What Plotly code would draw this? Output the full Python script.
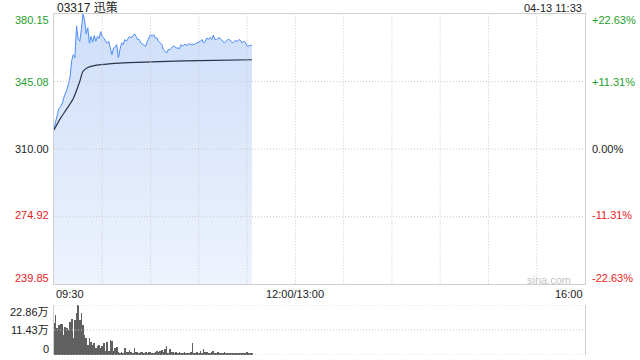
import plotly.graph_objects as go

# ---------------- data ----------------
minutes = list(range(124))
price = [
    320.8, 324.0, 328.0, 331.0, 332.0, 333.5, 336.5, 338.5, 341.0, 344.0,
    347.5, 356.0, 359.0, 357.5, 374.0, 367.0, 366.0, 372.0, 380.15, 377.0,
    370.0, 373.0, 365.0, 368.5, 365.5, 369.0, 366.0, 368.5, 367.5, 371.0,
    368.5, 367.5, 366.0, 365.0, 366.0, 362.5, 359.0, 362.5, 363.0, 364.3,
    357.5, 361.7, 365.1, 364.3, 366.9, 366.0, 367.7, 368.6, 367.7, 368.6,
    369.8, 368.6, 366.9, 366.9, 365.1, 364.5, 364.0, 363.4, 366.0, 367.7,
    369.5, 368.6, 369.5, 367.7, 367.7, 366.0, 365.1, 364.3, 361.7, 360.8,
    359.9, 361.7, 361.7, 362.5, 363.4, 363.4, 362.5, 362.5, 362.2, 364.3,
    363.4, 364.3, 364.3, 364.0, 364.8, 364.3, 364.5, 364.3, 364.8, 365.1,
    365.3, 366.0, 366.9, 365.1, 366.0, 367.7, 366.9, 368.1, 366.9, 369.2,
    366.9, 366.9, 367.7, 367.7, 366.9, 366.0, 365.1, 366.0, 366.9, 366.9,
    366.0, 365.1, 366.0, 366.3, 366.0, 366.9, 366.3, 365.1, 366.0, 365.5,
    363.4, 363.7, 363.7, 364.0,
]
avg_minutes = [0, 4, 8, 12, 16, 18, 21, 25, 29, 41, 60, 81, 100, 123]
avg_price = [320.0, 326.0, 331.0, 336.3, 345.1, 350.3, 352.4, 353.4, 353.9,
             354.7, 355.3, 355.8, 356.1, 356.4]
volume = [
    14.5, 18.3, 12.2, 13.7, 14.0, 14.0, 9.1, 13.0, 12.5, 11.4,
    15.2, 16.5, 8.0, 15.9, 19.0, 22.86, 15.9, 19.0, 13.7, 9.1,
    7.6, 4.6, 7.9, 6.1, 4.5, 5.5, 3.0, 4.0, 4.8, 3.0,
    4.0, 5.5, 2.0, 6.0, 2.0, 6.9, 6.3, 2.0, 3.0, 3.5,
    1.5, 0.8, 1.5, 0.8, 3.0, 1.5, 1.2, 2.3, 1.5, 0.8,
    3.0, 1.2, 1.5, 0.8, 1.2, 1.5, 0.8, 1.5, 0.8, 1.5,
    1.2, 0.8, 1.0, 1.5, 1.8, 1.2, 2.0, 2.5, 1.5, 2.7,
    4.3, 1.0, 2.7, 1.2, 1.5, 1.0, 1.2, 0.8, 1.5, 1.0,
    0.8, 1.2, 0.6, 1.0, 0.8, 1.2, 5.6, 0.8, 1.0, 1.2,
    0.8, 2.0, 1.0, 2.7, 1.2, 1.5, 1.0, 0.8, 1.6, 1.8,
    1.0, 0.8, 1.2, 0.6, 1.0, 0.8, 1.2, 0.6, 1.0, 0.8,
    0.6, 1.0, 0.8, 0.6, 0.8, 0.6, 0.8, 1.0, 0.6, 0.8,
    1.5, 0.8, 0.6, 0.5,
]
price_ticks = [380.15, 345.08, 310.00, 274.92, 239.85]
price_labels = ["380.15", "345.08", "310.00", "274.92", "239.85"]
pct_labels = ["+22.63%", "+11.31%", "0.00%", "-11.31%", "-22.63%"]
vol_ticks = [22.86, 11.43, 0]
vol_labels = ["22.86万", "11.43万", "0"]
time_pos = [0, 150, 330]
time_labels = ["09:30", "12:00/13:00", "16:00"]
grid_minutes = list(range(30, 330, 30))
grid_prices = [345.08, 310.00, 274.92]
title_text = "03317 迅策"
stamp_text = "04-13 11:33"

# ---------------- figure ----------------
W, H = 640, 360
ML, MR, MT, MB = 54, 55, 14, 5
PH = H - MT - MB
def py(ypix):
    return (H - MB - ypix) / PH
def px(xpix):
    return (xpix - ML) / (W - ML - MR)

FONT = "Liberation Sans, Arial, Noto Sans CJK SC, sans-serif"
GREEN = "#1f9e2c"
RED = "#e8221a"
GRID = "#c9c9c9"
BORDER = "#d0d0d0"
DASH = "1px,2px"

fig = go.Figure()
fig.add_trace(go.Scatter(
    x=minutes, y=price, mode="lines",
    line=dict(color="#4d8cf5", width=1),
    fill="tozeroy",
    fillgradient=dict(type="vertical", start=239.85, stop=380.15,
                      colorscale=[[0, "rgb(238,243,253)"], [1, "rgb(206,222,250)"]]),
    xaxis="x", yaxis="y", hoverinfo="skip",
))
fig.add_trace(go.Scatter(
    x=avg_minutes, y=avg_price, mode="lines",
    line=dict(color="#2a3447", width=1.2, shape="spline", smoothing=0.8),
    xaxis="x", yaxis="y", hoverinfo="skip",
))
fig.add_trace(go.Bar(
    x=minutes, y=volume, width=0.4, marker=dict(color="#606060", line=dict(width=0)),
    xaxis="x2", yaxis="y2", hoverinfo="skip",
))

main_bottom = py(284.3)
vol_top = py(305)

fig.update_layout(
    width=W, height=H, margin=dict(l=ML, r=MR, t=MT, b=MB),
    paper_bgcolor="white", plot_bgcolor="white", showlegend=False,
    bargap=0,
    xaxis=dict(domain=[0, 1], range=[0, 330], showticklabels=False, ticks="",
               showgrid=False, zeroline=False,
               showline=True, mirror=True, linecolor=BORDER, linewidth=1, anchor="y"),
    yaxis=dict(domain=[main_bottom, 1], range=[239.85, 380.15],
               showticklabels=False, ticks="", showgrid=False,
               zeroline=False, showline=True, mirror=True, linecolor=BORDER,
               linewidth=1, anchor="x"),
    xaxis2=dict(domain=[0, 1], range=[0, 330], showticklabels=False, ticks="",
                showgrid=False, zeroline=False, showline=False, anchor="y2"),
    yaxis2=dict(domain=[0, vol_top], range=[0, 22.86], showticklabels=False,
                ticks="", showgrid=False, zeroline=False, showline=True,
                mirror=True, linecolor=BORDER, linewidth=1, anchor="x2"),
)

shapes = []
for m in grid_minutes:
    shapes.append(dict(type="line", xref="x", x0=m, x1=m, yref="y", y0=239.85, y1=380.15,
                       line=dict(color=GRID, width=1, dash=DASH), layer="above"))
for v in grid_prices:
    shapes.append(dict(type="line", xref="x", x0=0, x1=330, yref="y", y0=v, y1=v,
                       line=dict(color=GRID, width=1, dash=DASH), layer="above"))
for v in vol_ticks:
    shapes.append(dict(type="line", xref="x2", x0=0, x1=330, yref="y2", y0=v, y1=v,
                       line=dict(color=GRID, width=1, dash=DASH), layer="above"))
fig.update_layout(shapes=shapes)

ann = []
left_y = [20, 82, 149, 215, 278]
colors = [GREEN, GREEN, "#222222", RED, RED]
for lab, pct, yy, c in zip(price_labels, pct_labels, left_y, colors):
    ann.append(dict(text=lab, x=px(51), y=py(yy), xref="paper", yref="paper",
                    xanchor="right", yanchor="middle", showarrow=False,
                    font=dict(family=FONT, size=11, color=c)))
    ann.append(dict(text=pct, x=px(590), y=py(yy), xref="paper", yref="paper",
                    xanchor="left", yanchor="middle", showarrow=False,
                    font=dict(family=FONT, size=11, color=c)))
vol_y = [311.5, 330, 348.5]
for lab, yy in zip(vol_labels, vol_y):
    ann.append(dict(text=lab, x=px(51), y=py(yy), xref="paper", yref="paper",
                    xanchor="right", yanchor="middle", showarrow=False,
                    font=dict(family=FONT, size=11, color="#222222")))
anchors = ["left", "center", "right"]
for pos, lab, a in zip(time_pos, time_labels, anchors):
    ann.append(dict(text=lab, x=pos / 330, y=py(293.5), xref="paper", yref="paper",
                    xanchor=a, yanchor="middle", showarrow=False,
                    font=dict(family=FONT, size=11, color="#222222")))
ann.append(dict(text=title_text, x=px(55), y=py(7.5), xref="paper", yref="paper",
                xanchor="left", yanchor="middle", showarrow=False,
                font=dict(family=FONT, size=12, color="#222222")))
ann.append(dict(text=stamp_text, x=px(584), y=py(7.5), xref="paper", yref="paper",
                xanchor="right", yanchor="middle", showarrow=False,
                font=dict(family=FONT, size=11, color="#222222")))
ann.append(dict(text="sina.com", x=px(573), y=py(279.5), xref="paper", yref="paper",
                xanchor="right", yanchor="middle", showarrow=False,
                font=dict(family=FONT, size=11, color="#c4c4c4")))
fig.update_layout(annotations=ann)

fig.write_html("out.html", config=dict(displayModeBar=False))
